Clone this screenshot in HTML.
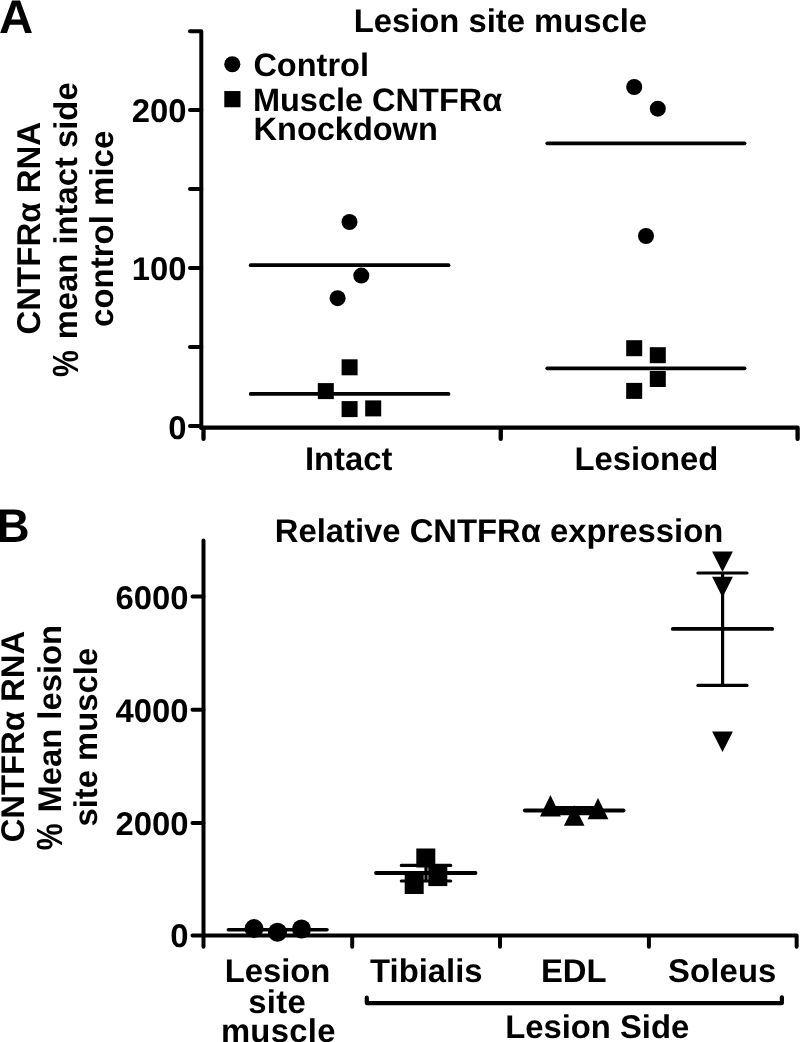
<!DOCTYPE html>
<html lang="en">
<head>
<meta charset="utf-8">
<title>CNTFRα RNA figure</title>
<style>
  html, body { margin: 0; padding: 0; background: #ffffff; }
  body { width: 800px; height: 1042px; overflow: hidden; }
  svg { display: block; }
  text { font-family: "Liberation Sans", "DejaVu Sans", sans-serif; font-weight: bold; fill: #000; text-rendering: geometricPrecision; }
  .t { font-size: 32.8px; }
  .lg { font-size: 32.5px; }
  .panel { font-size: 45.5px; }
  .ax { stroke: #000; stroke-width: 4; fill: none; stroke-linecap: round; stroke-linejoin: round; }
  .mean { stroke: #000; stroke-width: 3.8; fill: none; stroke-linecap: round; }
  .meanb { stroke: #000; stroke-width: 3.8; fill: none; stroke-linecap: round; }
  .cap { stroke: #000; stroke-width: 3.2; fill: none; stroke-linecap: round; }
  .sym { fill: #000; stroke: none; }
</style>
</head>
<body>
<svg width="800" height="1042" viewBox="0 0 800 1042">
  <rect x="0" y="0" width="800" height="1042" fill="#ffffff"/>

  <!-- ============ PANEL A ============ -->
  <g id="panelA">
    <text class="panel" style="font-size:47.3px" x="-1.1" y="32.5">A</text>
    <text class="t" x="500.4" y="32.2" text-anchor="middle">Lesion site muscle</text>

    <!-- y axis label -->
    <text class="t" style="font-size:33px" transform="translate(39.8 228.2) rotate(-90)" text-anchor="middle">CNTFRα RNA</text>
    <g transform="translate(77.0 229.5) rotate(-90)">
      <text class="t" x="-147.64" y="0" transform="translate(-146.14 -11.5) scale(0.92 1.11) translate(146.14 11.5)">%</text>
      <text class="t" x="-109.86" y="0">mean intact side</text>
    </g>
    <text class="t" style="font-size:33px" transform="translate(113.2 228.8) rotate(-90)" text-anchor="middle">control mice</text>

    <!-- axes -->
    <path class="ax" d="M190 31.3 H201.3 V428"/>
    <path class="ax" d="M190 110 H201.3 M190 189.1 H201.3 M190 267.9 H201.3 M190 347.1 H201.3 M190 426 H201.3"/>
    <path class="ax" style="stroke-width:4.3" d="M201.3 427.65 H797.6 V438.9"/>
    <path class="ax" style="stroke-width:4.3" d="M203.5 428.2 V438.9 M500.75 428.2 V438.9"/>

    <!-- tick labels -->
    <text class="t" x="186.5" y="122.3" text-anchor="end">200</text>
    <text class="t" x="186.5" y="280.3" text-anchor="end">100</text>
    <text class="t" x="186.5" y="439.3" text-anchor="end">0</text>

    <!-- category labels -->
    <text class="t" x="348.7" y="470" text-anchor="middle">Intact</text>
    <text class="t" x="646.4" y="470" text-anchor="middle">Lesioned</text>

    <!-- legend -->
    <circle class="sym" cx="232.3" cy="64.3" r="8.05"/>
    <rect class="sym" x="224.3" y="91.05" width="16.2" height="16.2"/>
    <text class="t lg" x="253.4" y="76.3">Control</text>
    <text class="t lg" x="252.9" y="111">Muscle CNTFRα</text>
    <text class="t lg" x="253.6" y="140.2">Knockdown</text>

    <!-- Intact: control -->
    <path class="mean" d="M250.7 265.2 H448.5"/>
    <circle class="sym" cx="349.5" cy="222" r="8"/>
    <circle class="sym" cx="361.3" cy="275.6" r="8"/>
    <circle class="sym" cx="337.6" cy="298.2" r="8"/>
    <!-- Intact: knockdown -->
    <path class="mean" d="M250.7 393.9 H448.5"/>
    <rect class="sym" x="341.6" y="359.3" width="16" height="16"/>
    <rect class="sym" x="317.8" y="383.1" width="16" height="16"/>
    <rect class="sym" x="341.6" y="401.1" width="16" height="16"/>
    <rect class="sym" x="365.2" y="400.4" width="16" height="16"/>

    <!-- Lesioned: control -->
    <path class="mean" d="M547.3 143.3 H744.5"/>
    <circle class="sym" cx="634.2" cy="87" r="8"/>
    <circle class="sym" cx="657.8" cy="108.7" r="8"/>
    <circle class="sym" cx="646" cy="236" r="8"/>
    <!-- Lesioned: knockdown -->
    <path class="mean" d="M547.3 368.3 H744.5"/>
    <rect class="sym" x="626.2" y="340.2" width="16" height="16"/>
    <rect class="sym" x="649.8" y="347.2" width="16" height="16"/>
    <rect class="sym" x="649.8" y="371" width="16" height="16"/>
    <rect class="sym" x="626.2" y="382.9" width="16" height="16"/>
  </g>

  <!-- ============ PANEL B ============ -->
  <g id="panelB">
    <text class="panel" transform="translate(-3.3 541.5) scale(1 1.04)">B</text>
    <text class="t" x="499.0" y="541.7" text-anchor="middle">Relative CNTFRα expression</text>

    <!-- y axis label -->
    <text class="t" transform="translate(24.1 736.6) rotate(-90)" text-anchor="middle">CNTFRα RNA</text>
    <g transform="translate(60.8 737.4) rotate(-90)">
      <text class="t" x="-113.00" y="0" transform="translate(-111.50 -11.5) scale(0.92 1.11) translate(111.50 11.5)">%</text>
      <text class="t" x="-75.22" y="0">Mean lesion</text>
    </g>
    <text class="t" transform="translate(96.9 737.2) rotate(-90)" text-anchor="middle">site muscle</text>

    <!-- axes -->
    <path class="ax" d="M203.5 540.5 V935.6 H796.65 V946.7"/>
    <path class="ax" d="M192.5 596.5 H203.5 M192.5 709.7 H203.5 M192.5 822.9 H203.5 M192.5 935.6 H203.5"/>
    <path class="ax" d="M203.5 936 V946.7 M352.2 936 V946.7 M500 936 V946.7 M648.9 936 V946.7"/>

    <!-- tick labels -->
    <text class="t" x="188.5" y="609.3" text-anchor="end">6000</text>
    <text class="t" x="188.5" y="722.2" text-anchor="end">4000</text>
    <text class="t" x="188.5" y="834.9" text-anchor="end">2000</text>
    <text class="t" x="188.5" y="947.4" text-anchor="end">0</text>

    <!-- category labels -->
    <text class="t" x="277.5" y="982.3" text-anchor="middle">Lesion</text>
    <text class="t" x="277.2" y="1012.6" text-anchor="middle" letter-spacing="0.3">site</text>
    <text class="t" x="278.3" y="1042.3" text-anchor="middle" letter-spacing="0.3">muscle</text>
    <text class="t" x="426.3" y="982.4" text-anchor="middle">Tibialis</text>
    <text class="t" x="573.8" y="982.4" text-anchor="middle">EDL</text>
    <text class="t" x="722.3" y="982.4" text-anchor="middle" letter-spacing="0.15">Soleus</text>

    <!-- bracket -->
    <path d="M366.8 997.7 V1003.1 H781.9 V997.3" stroke="#000" stroke-width="4.2" fill="none" stroke-linecap="round" stroke-linejoin="round"/>
    <text class="t" x="597.2" y="1038.3" text-anchor="middle">Lesion Side</text>

    <!-- Lesion site muscle -->
    <path class="cap" style="stroke-width:3.5" d="M228.3 929.75 H327"/>
    <circle class="sym" cx="254" cy="928.6" r="9.5"/>
    <circle class="sym" cx="277.5" cy="932.2" r="9.5"/>
    <circle class="sym" cx="301.5" cy="929" r="9.5"/>

    <!-- Tibialis -->
    <path class="meanb" d="M376 873 H475.5"/>
    <path class="cap" d="M401.3 865.4 H450.7 M401.3 881 H450.7 M426 865.4 V881"/>
    <rect class="sym" x="416.3" y="848.5" width="19" height="19"/>
    <rect class="sym" x="404.7" y="874.8" width="19" height="19.2"/>
    <rect class="sym" x="428.3" y="866.9" width="19" height="19.2"/>

    <!-- EDL -->
    <path class="meanb" d="M524.8 810.5 H623.6"/>
    <path class="cap" d="M549.8 807.6 H598.6 M549.8 813.7 H598.6"/>
    <path class="sym" d="M550.4 794.9 L560.8 816.4 H540 Z"/>
    <path class="sym" d="M574.2 805.2 L584.5 825.8 H563.9 Z"/>
    <path class="sym" d="M598 797.9 L608.4 819.3 H587.6 Z"/>

    <!-- Soleus -->
    <path class="meanb" d="M672.8 628.9 H772.2"/>
    <path d="M722.6 573 V685.4" stroke="#000" stroke-width="3.2" fill="none"/>
    <path class="cap" d="M697.9 573 H747 M697.9 685.4 H747"/>
    <path class="sym" d="M712.1 551.6 H732.9 L722.5 571.9 Z"/>
    <path class="sym" d="M712.1 576.7 H732.9 L722.5 597.4 Z"/>
    <path class="sym" d="M712.1 731.6 H732.9 L722.5 751.9 Z"/>
  </g>
</svg>
</body>
</html>
